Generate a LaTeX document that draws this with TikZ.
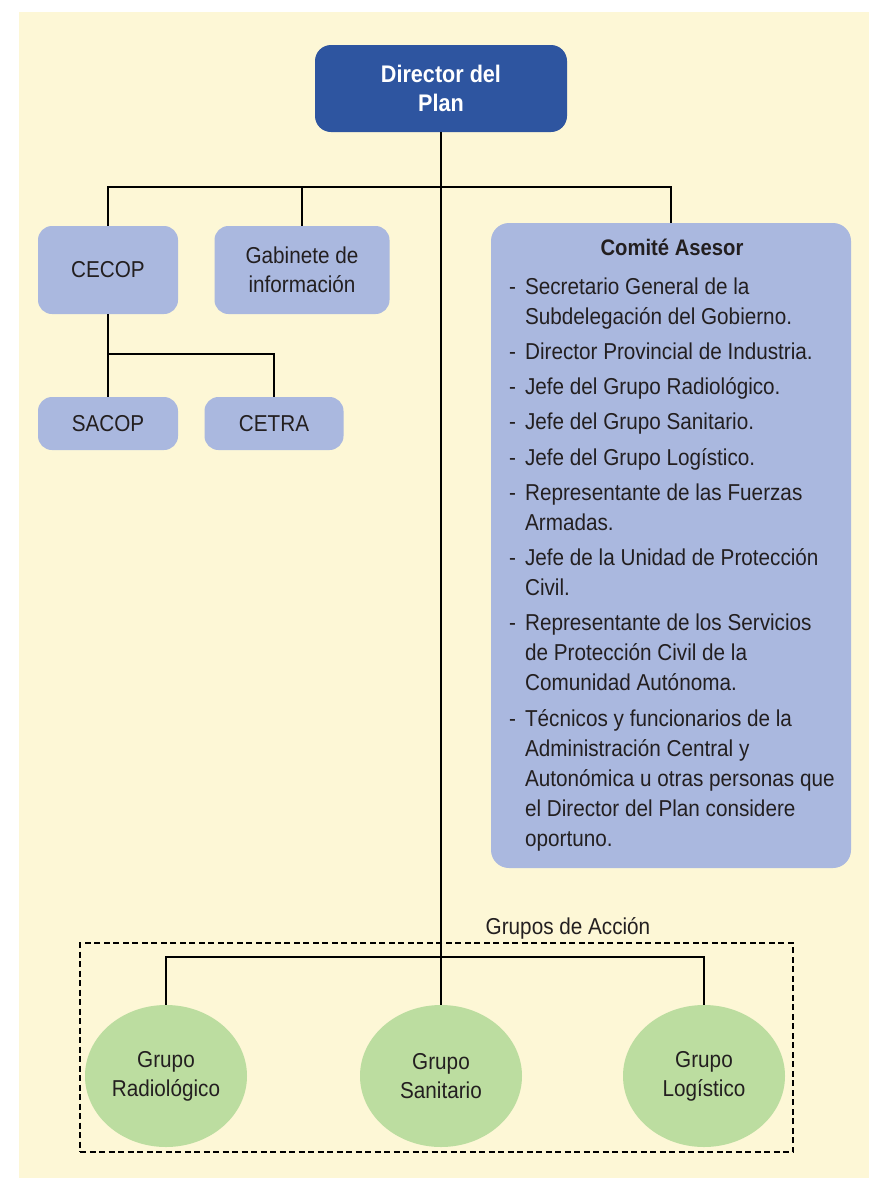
\documentclass[tikz,border=0pt]{standalone}
\usepackage{fontspec}
\setmainfont{Liberation Sans}[FakeStretch=0.9]
\usetikzlibrary{shapes.geometric}

\definecolor{paper}{HTML}{FDF7D6}
\definecolor{lightbox}{HTML}{AAB8DF}
\definecolor{headbox}{HTML}{2E55A0}
\definecolor{groupfill}{HTML}{BCDDA0}
\definecolor{ink}{HTML}{231F20}

\begin{document}
\begin{tikzpicture}[x=1pt, y=-1pt,
  font=\fontsize{23}{29}\selectfont, text=ink,
  unit/.style={fill=lightbox, rounded corners=14pt, align=center, inner sep=0pt},
  head/.style={fill=headbox, rounded corners=16pt, text=white,
    font=\bfseries\fontsize{24}{29}\selectfont, align=center,
    minimum width=252pt, minimum height=87pt, inner sep=0pt},
  group/.style={ellipse, fill=groupfill, minimum width=162pt,
    minimum height=142pt, inner sep=0pt, align=center},
  link/.style={line width=2.5pt, draw=black},
  frame/.style={draw=black, line width=1.4pt, dash pattern=on 6pt off 3.5pt}]

  % page and paper background (paper runs off the right and bottom edges)
  \useasboundingbox (0,0) rectangle (869,1178);
  \fill[white] (0,0) rectangle (869,1178);
  \fill[paper] (19,12) rectangle (900,1210);

  % top of the hierarchy
  \node[head] (dir) at (441,88.5) {Director del\\Plan};

  % second level
  \node[unit, minimum width=140pt, minimum height=88pt] (cecop) at (108,270) {CECOP};
  \node[unit, minimum width=175pt, minimum height=88pt] (gab) at (302,270) {Gabinete de\\información};
  \node[unit, rounded corners=18pt, minimum width=360pt, minimum height=645pt] (comite) at (671,545.5) {};

  % advisory committee contents
  \node[font=\bfseries\fontsize{22.5}{26}\selectfont, anchor=base] (comtitle) at (672,255) {Comité Asesor};
  \node[anchor=base west, inner sep=0pt, font=\fontsize{23}{30}\selectfont] (comlist) at (509,294) {%
    \begin{tabular}[t]{@{}l@{\hspace{9pt}}l@{}}
      - & Secretario General de la\\
        & Subdelegación del Gobierno.\\[5.25pt]
      - & Director Provincial de Industria.\\[5.25pt]
      - & Jefe del Grupo Radiológico.\\[5.25pt]
      - & Jefe del Grupo Sanitario.\\[5.25pt]
      - & Jefe del Grupo Logístico.\\[5.25pt]
      - & Representante de las Fuerzas\\
        & Armadas.\\[5.25pt]
      - & Jefe de la Unidad de Protección\\
        & Civil.\\[5.25pt]
      - & Representante de los Servicios\\
        & de Protección Civil de la\\
        & Comunidad Autónoma.\\[5.25pt]
      - & Técnicos y funcionarios de la\\
        & Administración Central y\\
        & Autonómica u otras personas que\\
        & el Director del Plan considere\\
        & oportuno.
    \end{tabular}};

  % third level under CECOP
  \node[unit, minimum width=140pt, minimum height=53pt] (sacop) at (108,423.5) {SACOP};
  \node[unit, minimum width=139pt, minimum height=53pt] (cetra) at (274,423.5) {CETRA};

  % action groups
  \node[frame, minimum width=713pt, minimum height=209pt, inner sep=0pt] (acc) at (436.5,1047.5) {};
  \node (acclabel) at (568,928) {Grupos de Acción};
  \node[group] (rad) at (166,1076) {Grupo\\Radiológico};
  \node[group] (san) at (441,1076) {Grupo\\Sanitario};
  \node[group] (log) at (704,1076) {Grupo\\Logístico};

  % connectors
  \coordinate (topbus) at (441,187);
  \coordinate (subbus) at (108,354);
  \coordinate (grpbus) at (441,957);
  \draw[link] (dir.south) -- (san.north);
  \draw[link] (cecop.north) |- (topbus) -| (comite.north);
  \draw[link] (gab.north) -- (gab.north |- topbus);
  \draw[link] (cecop.south) -- (sacop.north);
  \draw[link] (subbus) -| (cetra.north);
  \draw[link] (rad.north) |- (grpbus) -| (log.north);
\end{tikzpicture}
\end{document}
